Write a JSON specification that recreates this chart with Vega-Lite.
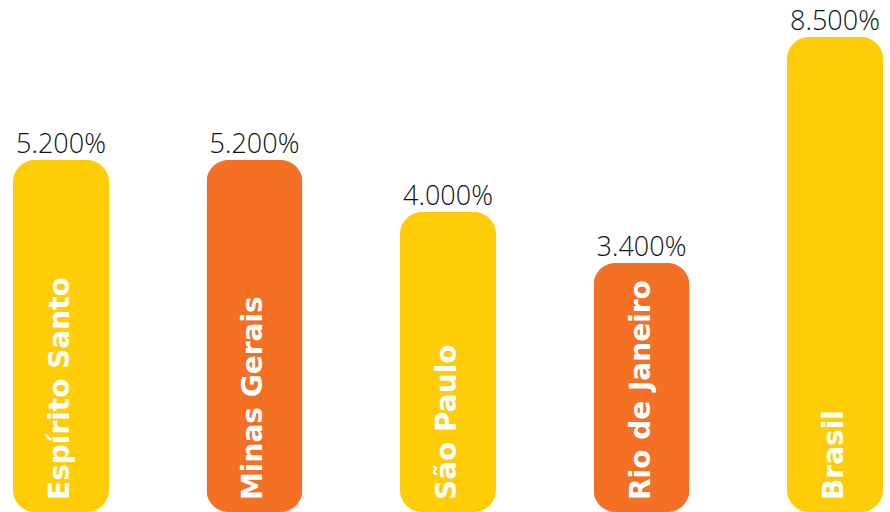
{
  "$schema": "https://vega.github.io/schema/vega-lite/v6.json",
  "width": 890,
  "height": 512,
  "autosize": {"type": "fit", "contains": "padding"},
  "padding": 0,
  "background": "white",
  "config": {"view": {"stroke": null}},
  "data": {
    "values": [
      {"estado": "Espírito Santo", "valor": 5.2, "rotulo": "5.200%", "grupo": "a"},
      {"estado": "Minas Gerais", "valor": 5.2, "rotulo": "5.200%", "grupo": "b"},
      {"estado": "São Paulo", "valor": 4.0, "rotulo": "4.000%", "grupo": "a"},
      {"estado": "Rio de Janeiro", "valor": 3.4, "rotulo": "3.400%", "grupo": "b"},
      {"estado": "Brasil", "valor": 8.5, "rotulo": "8.500%", "grupo": "a"}
    ]
  },
  "encoding": {
    "x": {
      "field": "estado", "type": "nominal", "sort": null, "axis": null,
      "scale": {"type": "band", "range": [13, 883], "paddingInner": 0.504, "paddingOuter": 0}
    }
  },
  "layer": [
    {
      "mark": {"type": "bar", "cornerRadius": 22},
      "encoding": {
        "y": {
          "field": "valor", "type": "quantitative", "axis": null,
          "scale": {"domain": [0, 3.4, 4.0, 5.2, 8.5], "range": [512, 263, 212, 160, 37], "zero": false, "nice": false, "clamp": false}
        },
        "color": {
          "field": "grupo", "type": "nominal", "legend": null,
          "scale": {"domain": ["a", "b"], "range": ["#FECD06", "#F37024"]}
        }
      }
    },
    {
      "mark": {"type": "text", "baseline": "alphabetic", "dy": -7, "fontSize": 27, "font": "Open Sans", "fontWeight": 300, "color": "#111111"},
      "encoding": {
        "y": {"field": "valor", "type": "quantitative"},
        "text": {"field": "rotulo"}
      }
    },
    {
      "mark": {"type": "text", "angle": 270, "align": "left", "baseline": "middle", "dx": 12, "fontSize": 28, "font": "DejaVu Sans", "fontWeight": "bold", "color": "white"},
      "encoding": {
        "y": {"datum": 0, "type": "quantitative"},
        "text": {"field": "estado"}
      }
    }
  ]
}
